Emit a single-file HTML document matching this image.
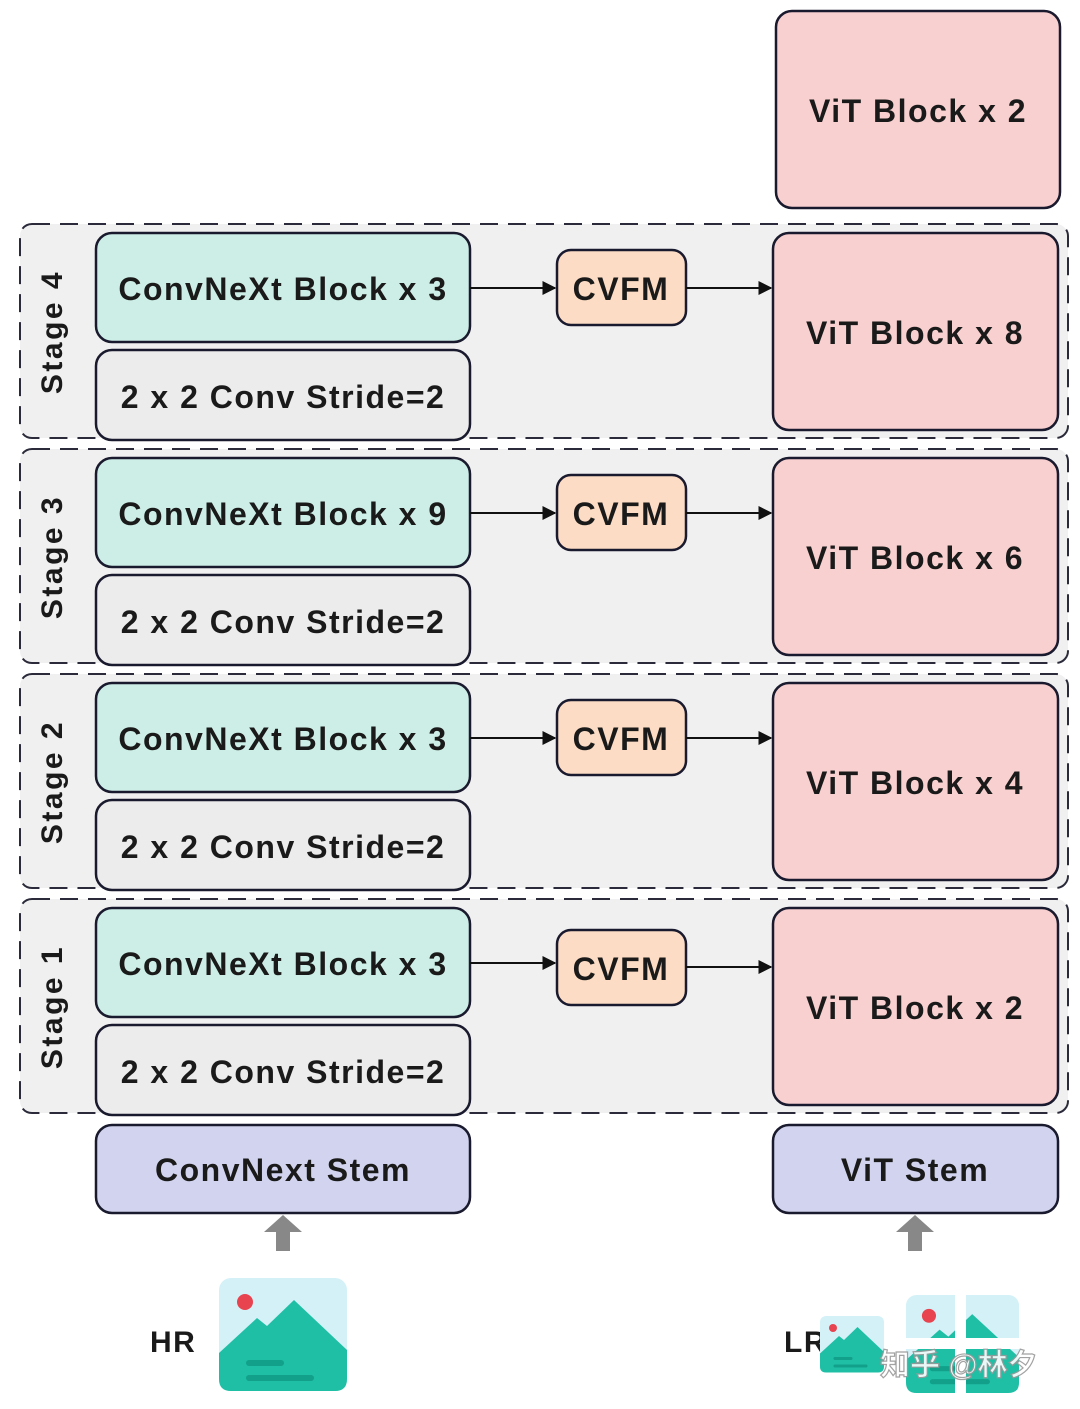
<!DOCTYPE html>
<html><head><meta charset="utf-8"><style>
html,body{margin:0;padding:0;background:#fff}
svg{display:block}
text{font-family:"Liberation Sans",sans-serif;font-weight:bold;fill:#1a1a1a;letter-spacing:1.5px}
</style></head><body>
<svg width="1080" height="1409" viewBox="0 0 1080 1409" xmlns="http://www.w3.org/2000/svg">
<defs>
<marker id="ah" viewBox="0 0 10 10" refX="9" refY="5" markerWidth="7" markerHeight="7" orient="auto"><path d="M0,0 L10,5 L0,10 z" fill="#111"/></marker>
<g id="icon">
<rect x="0" y="0" width="128" height="113" rx="12" fill="#d4f1f8"/>
<path d="M0,75 L38,40 L48,48 L75,22 L128,72 L128,101 Q128,113 116,113 L12,113 Q0,113 0,101 Z" fill="#1fbfa5"/>
<circle cx="26" cy="24" r="8" fill="#e84450"/>
<line x1="30" y1="85" x2="62" y2="85" stroke="#12a08a" stroke-width="6" stroke-linecap="round"/>
<line x1="30" y1="100" x2="92" y2="100" stroke="#12a08a" stroke-width="6" stroke-linecap="round"/>
</g>
<g id="stage">
<rect x="20" y="224" width="1048" height="214" rx="12" fill="#f0f0f0" stroke="#2a2a3a" stroke-width="2" stroke-dasharray="18,10"/>
<rect x="96" y="233" width="374" height="109" rx="16" fill="#cdeee6" stroke="#1a1a2e" stroke-width="2.5"/>
<rect x="96" y="350" width="374" height="90" rx="16" fill="#ececec" stroke="#1a1a2e" stroke-width="2.5"/>
<text x="283" y="408" font-size="32" text-anchor="middle">2 x 2 Conv Stride=2</text>
<line x1="470" y1="288" x2="555" y2="288" stroke="#111" stroke-width="2" marker-end="url(#ah)"/>
<rect x="773" y="233" width="285" height="197" rx="16" fill="#f9d0d0" stroke="#1a1a2e" stroke-width="2.5"/>
</g>
</defs>

<rect x="776" y="11" width="284" height="197" rx="16" fill="#f9d0d0" stroke="#1a1a2e" stroke-width="2.5"/>
<text x="918" y="122" font-size="32" text-anchor="middle">ViT Block x 2</text>

<g transform="translate(0,0)">
<use href="#stage"/>
<text transform="translate(62,332) rotate(-90)" font-size="30" text-anchor="middle" style="letter-spacing:2.5px">Stage 4</text>
<text x="283" y="300" font-size="32" text-anchor="middle">ConvNeXt Block x 3</text>
<rect x="557" y="250" width="129" height="75" rx="14" fill="#fcdcc4" stroke="#1a1a2e" stroke-width="2.5"/>
<text x="621" y="300" font-size="32" text-anchor="middle">CVFM</text>
<line x1="686" y1="288" x2="771" y2="288" stroke="#111" stroke-width="2" marker-end="url(#ah)"/>
<text x="915" y="344" font-size="32" text-anchor="middle">ViT Block x 8</text>
</g>
<g transform="translate(0,225)">
<use href="#stage"/>
<text transform="translate(62,332) rotate(-90)" font-size="30" text-anchor="middle" style="letter-spacing:2.5px">Stage 3</text>
<text x="283" y="300" font-size="32" text-anchor="middle">ConvNeXt Block x 9</text>
<rect x="557" y="250" width="129" height="75" rx="14" fill="#fcdcc4" stroke="#1a1a2e" stroke-width="2.5"/>
<text x="621" y="300" font-size="32" text-anchor="middle">CVFM</text>
<line x1="686" y1="288" x2="771" y2="288" stroke="#111" stroke-width="2" marker-end="url(#ah)"/>
<text x="915" y="344" font-size="32" text-anchor="middle">ViT Block x 6</text>
</g>
<g transform="translate(0,450)">
<use href="#stage"/>
<text transform="translate(62,332) rotate(-90)" font-size="30" text-anchor="middle" style="letter-spacing:2.5px">Stage 2</text>
<text x="283" y="300" font-size="32" text-anchor="middle">ConvNeXt Block x 3</text>
<rect x="557" y="250" width="129" height="75" rx="14" fill="#fcdcc4" stroke="#1a1a2e" stroke-width="2.5"/>
<text x="621" y="300" font-size="32" text-anchor="middle">CVFM</text>
<line x1="686" y1="288" x2="771" y2="288" stroke="#111" stroke-width="2" marker-end="url(#ah)"/>
<text x="915" y="344" font-size="32" text-anchor="middle">ViT Block x 4</text>
</g>
<g transform="translate(0,675)">
<use href="#stage"/>
<text transform="translate(62,332) rotate(-90)" font-size="30" text-anchor="middle" style="letter-spacing:2.5px">Stage 1</text>
<text x="283" y="300" font-size="32" text-anchor="middle">ConvNeXt Block x 3</text>
<rect x="557" y="255" width="129" height="75" rx="14" fill="#fcdcc4" stroke="#1a1a2e" stroke-width="2.5"/>
<text x="621" y="305" font-size="32" text-anchor="middle">CVFM</text>
<line x1="686" y1="292" x2="771" y2="292" stroke="#111" stroke-width="2" marker-end="url(#ah)"/>
<text x="915" y="344" font-size="32" text-anchor="middle">ViT Block x 2</text>
</g>

<rect x="96" y="1125" width="374" height="88" rx="16" fill="#d2d4ef" stroke="#1a1a2e" stroke-width="2.5"/>
<text x="283" y="1181" font-size="32" text-anchor="middle">ConvNext Stem</text>
<rect x="773" y="1125" width="285" height="88" rx="16" fill="#d2d4ef" stroke="#1a1a2e" stroke-width="2.5"/>
<text x="915" y="1181" font-size="32" text-anchor="middle">ViT Stem</text>

<path d="M283,1215 L302,1232 L290,1232 L290,1251 L276,1251 L276,1232 L264,1232 Z" fill="#888"/>
<path d="M915,1215 L934,1232 L922,1232 L922,1251 L908,1251 L908,1232 L896,1232 Z" fill="#888"/>

<text x="150" y="1352" font-size="30">HR</text>
<use href="#icon" x="219" y="1278"/>

<text x="784" y="1352" font-size="30">LR</text>
<g transform="translate(820,1316) scale(0.5)"><use href="#icon"/></g>
<g transform="translate(906,1295) scale(0.883,0.867)"><use href="#icon"/></g>
<rect x="955" y="1290" width="11" height="110" fill="#fff"/>
<rect x="900" y="1338" width="125" height="11" fill="#fff"/>
<text x="880" y="1375" font-size="30" font-weight="normal" style="font-family:'Liberation Sans','Noto Sans CJK SC',sans-serif;fill:#fff;stroke:#999;stroke-width:1.2;opacity:0.9;letter-spacing:0">知乎 @林夕</text>
</svg>
</body></html>
